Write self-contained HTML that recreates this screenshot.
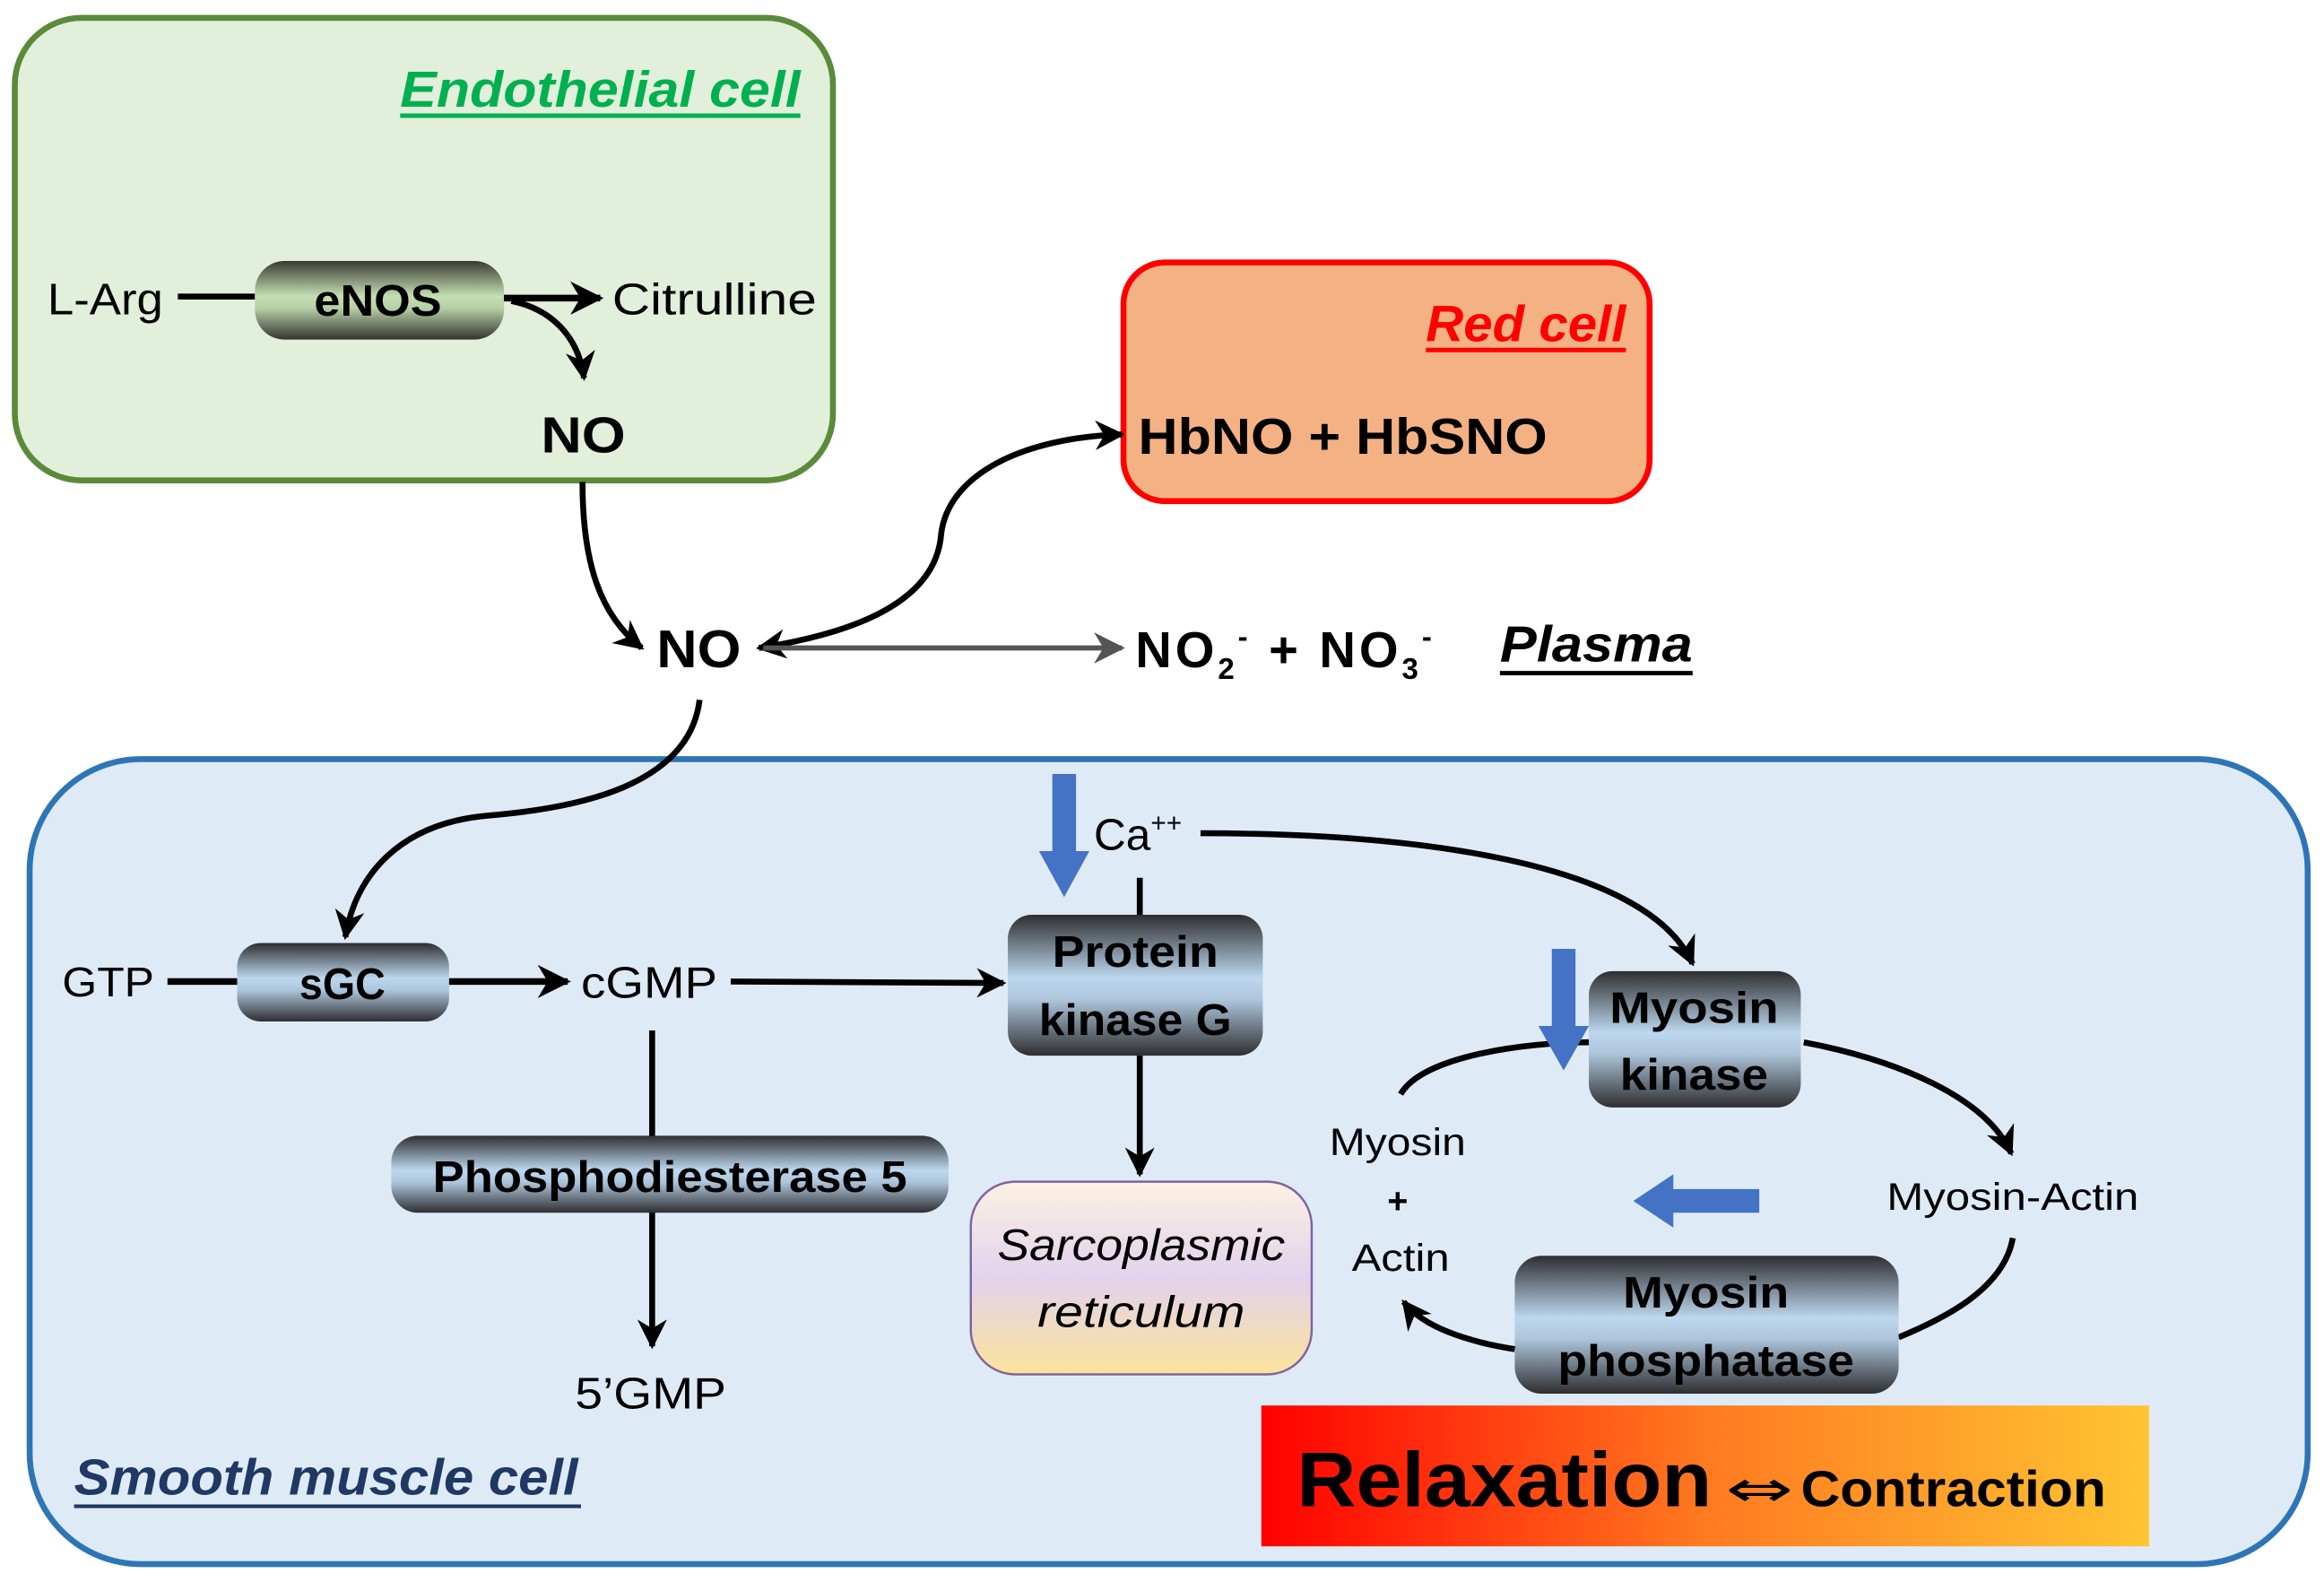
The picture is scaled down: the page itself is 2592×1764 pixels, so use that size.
<!DOCTYPE html>
<html><head><meta charset="utf-8"><style>
html,body{margin:0;padding:0;background:#fff;}
svg{display:block;}
text{font-family:"Liberation Sans",sans-serif;}
</style></head><body>
<svg width="2592" height="1764" viewBox="0 0 1568 1067" xmlns="http://www.w3.org/2000/svg">
<defs>
<linearGradient id="gG" x1="0" y1="0" x2="0" y2="1">
<stop offset="0" stop-color="#3a3a32"/><stop offset="0.45" stop-color="#c5dfb4"/><stop offset="0.6" stop-color="#b6cfa6"/><stop offset="1" stop-color="#333330"/></linearGradient>
<linearGradient id="gB" x1="0" y1="0" x2="0" y2="1">
<stop offset="0" stop-color="#2e2e30"/><stop offset="0.45" stop-color="#bdd7ee"/><stop offset="0.6" stop-color="#aec6dc"/><stop offset="1" stop-color="#2e2e30"/></linearGradient>
<linearGradient id="gS" x1="0" y1="0" x2="0" y2="1">
<stop offset="0" stop-color="#fcf1e2"/><stop offset="0.5" stop-color="#e2d2ee"/><stop offset="1" stop-color="#fbe39a"/></linearGradient>
<linearGradient id="gR" x1="0" y1="0" x2="1" y2="0">
<stop offset="0" stop-color="#ff0000"/><stop offset="0.5" stop-color="#ff7a20"/><stop offset="1" stop-color="#ffc433"/></linearGradient>
<marker id="ah" viewBox="0 0 10 10" refX="9" refY="5" markerWidth="5" markerHeight="5" orient="auto-start-reverse"><path d="M0,0 L10,5 L0,10 L3,5 z" fill="#000"/></marker>
<marker id="ahg" viewBox="0 0 10 10" refX="9" refY="5" markerWidth="6" markerHeight="6" orient="auto"><path d="M0,0 L10,5 L0,10 L3,5 z" fill="#555"/></marker>
</defs>

<rect x="10" y="12" width="552" height="312" rx="45" fill="#e2efda" stroke="#5a8a3a" stroke-width="4"/>
<text x="540" y="72" text-anchor="end" font-size="34" font-weight="bold" font-style="italic" fill="#00b050" textLength="270" lengthAdjust="spacingAndGlyphs">Endothelial cell</text>
<line x1="270" y1="78" x2="540" y2="78" stroke="#00b050" stroke-width="3"/>
<text x="32" y="212" font-size="30" textLength="78" lengthAdjust="spacingAndGlyphs">L-Arg</text>
<line x1="120" y1="200" x2="172" y2="200" stroke="#000" stroke-width="4"/>
<rect x="172" y="176" width="168" height="53" rx="20" fill="url(#gG)"/>
<text x="255" y="213" text-anchor="middle" font-size="30" font-weight="bold" textLength="86" lengthAdjust="spacingAndGlyphs">eNOS</text>
<line x1="340" y1="201" x2="405" y2="201" stroke="#000" stroke-width="4.5" marker-end="url(#ah)"/>
<text x="413" y="212" font-size="30" textLength="138" lengthAdjust="spacingAndGlyphs">Citrulline</text>
<path d="M345,203 C370,208 390,225 394,255" fill="none" stroke="#000" stroke-width="4" marker-end="url(#ah)"/>
<text x="365" y="305" font-size="34" font-weight="bold" textLength="57" lengthAdjust="spacingAndGlyphs">NO</text>

<path d="M393,325 C393,380 405,415 433,437" fill="none" stroke="#000" stroke-width="4" marker-end="url(#ah)"/>
<text x="443" y="450" font-size="36" font-weight="bold" textLength="57" lengthAdjust="spacingAndGlyphs">NO</text>

<rect x="758" y="177" width="355" height="161" rx="28" fill="#f4b183" stroke="#ff0000" stroke-width="4"/>
<text x="1097" y="230" text-anchor="end" font-size="34" font-weight="bold" font-style="italic" fill="#ff0000" textLength="135" lengthAdjust="spacingAndGlyphs">Red cell</text>
<line x1="962" y1="236" x2="1097" y2="236" stroke="#ff0000" stroke-width="3"/>
<text x="768" y="306" font-size="34" font-weight="bold" textLength="276" lengthAdjust="spacingAndGlyphs">HbNO + HbSNO</text>
<path d="M512,437 C590,425 632,400 635,360 C640,320 690,295 757,293" fill="none" stroke="#000" stroke-width="4" marker-start="url(#ah)" marker-end="url(#ah)"/>
<line x1="515" y1="437" x2="757" y2="437" stroke="#555" stroke-width="3.5" marker-end="url(#ahg)"/>
<text x="766" y="450" font-size="34" font-weight="bold" textLength="200" lengthAdjust="spacing">NO<tspan font-size="20" dy="8">2</tspan><tspan font-size="20" dy="-22">-</tspan><tspan dy="14"> + NO</tspan><tspan font-size="20" dy="8">3</tspan><tspan font-size="20" dy="-22">-</tspan></text>
<text x="1012" y="446" font-size="34" font-weight="bold" font-style="italic" textLength="130" lengthAdjust="spacingAndGlyphs">Plasma</text>
<line x1="1012" y1="454" x2="1142" y2="454" stroke="#000" stroke-width="3"/>

<rect x="20" y="512" width="1537" height="543" rx="75" fill="#deebf7" stroke="#2e75b6" stroke-width="4"/>
<path d="M472,472 C465,530 390,545 330,550 C270,555 240,590 233,632" fill="none" stroke="#000" stroke-width="4" marker-end="url(#ah)"/>
<text x="42" y="672" font-size="28" textLength="62" lengthAdjust="spacingAndGlyphs">GTP</text>
<line x1="113" y1="662" x2="160" y2="662" stroke="#000" stroke-width="4.5"/>
<rect x="160" y="636" width="143" height="53" rx="16" fill="url(#gB)"/>
<text x="231" y="674" text-anchor="middle" font-size="30" font-weight="bold" textLength="58" lengthAdjust="spacingAndGlyphs">sGC</text>
<line x1="303" y1="662" x2="383" y2="662" stroke="#000" stroke-width="4.5" marker-end="url(#ah)"/>
<text x="392" y="673" font-size="30" textLength="92" lengthAdjust="spacingAndGlyphs">cGMP</text>
<line x1="493" y1="662" x2="677" y2="663" stroke="#000" stroke-width="4" marker-end="url(#ah)"/>
<line x1="440" y1="695" x2="440" y2="908" stroke="#000" stroke-width="4" marker-end="url(#ah)"/>
<rect x="264" y="766" width="376" height="52" rx="18" fill="url(#gB)"/>
<text x="452" y="804" text-anchor="middle" font-size="30" font-weight="bold" textLength="320" lengthAdjust="spacingAndGlyphs">Phosphodiesterase 5</text>
<text x="388" y="950" font-size="30" textLength="102" lengthAdjust="spacingAndGlyphs">5’GMP</text>

<rect x="680" y="617" width="172" height="95" rx="16" fill="url(#gB)"/>
<text x="766" y="652" text-anchor="middle" font-size="30" font-weight="bold" textLength="112" lengthAdjust="spacingAndGlyphs">Protein</text>
<text x="766" y="698" text-anchor="middle" font-size="30" font-weight="bold" textLength="130" lengthAdjust="spacingAndGlyphs">kinase G</text>
<path d="M710,522 h16 v52 h9 l-17,31 l-17,-31 h9 z" fill="#4472c4"/>
<text x="738" y="573" font-size="30">Ca<tspan font-size="18" dy="-12">++</tspan></text>
<line x1="769" y1="592" x2="769" y2="617" stroke="#000" stroke-width="4"/>
<line x1="769" y1="712" x2="769" y2="792" stroke="#000" stroke-width="4" marker-end="url(#ah)"/>
<path d="M810,562 C950,562 1110,580 1142,650" fill="none" stroke="#000" stroke-width="4" marker-end="url(#ah)"/>

<rect x="655" y="797" width="230" height="130" rx="30" fill="url(#gS)" stroke="#8064a2" stroke-width="1.5"/>
<text x="770" y="850" text-anchor="middle" font-size="30" font-style="italic" textLength="194" lengthAdjust="spacingAndGlyphs">Sarcoplasmic</text>
<text x="770" y="895" text-anchor="middle" font-size="30" font-style="italic" textLength="140" lengthAdjust="spacingAndGlyphs">reticulum</text>

<path d="M945,738 C960,712 1030,703 1072,703" fill="none" stroke="#000" stroke-width="4"/>
<rect x="1072" y="655" width="143" height="92" rx="16" fill="url(#gB)"/>
<text x="1143" y="690" text-anchor="middle" font-size="30" font-weight="bold" textLength="114" lengthAdjust="spacingAndGlyphs">Myosin</text>
<text x="1143" y="735" text-anchor="middle" font-size="30" font-weight="bold" textLength="100" lengthAdjust="spacingAndGlyphs">kinase</text>
<path d="M1047,640 h16 v52 h9 l-17,30 l-17,-30 h9 z" fill="#4472c4"/>
<path d="M1217,703 C1280,715 1340,740 1357,778" fill="none" stroke="#000" stroke-width="4" marker-end="url(#ah)"/>
<text x="1358" y="816" text-anchor="middle" font-size="26" textLength="170" lengthAdjust="spacingAndGlyphs">Myosin-Actin</text>
<path d="M1358,835 C1352,870 1310,890 1281,902" fill="none" stroke="#000" stroke-width="4"/>
<path d="M1187,802 v16 h-58 v10 l-27,-18 l27,-18 v10 z" fill="#4472c4"/>
<rect x="1022" y="847" width="259" height="93" rx="18" fill="url(#gB)"/>
<text x="1151" y="882" text-anchor="middle" font-size="30" font-weight="bold" textLength="112" lengthAdjust="spacingAndGlyphs">Myosin</text>
<text x="1151" y="928" text-anchor="middle" font-size="30" font-weight="bold" textLength="200" lengthAdjust="spacingAndGlyphs">phosphatase</text>
<path d="M1022,910 C990,905 960,895 947,878" fill="none" stroke="#000" stroke-width="4" marker-end="url(#ah)"/>
<text x="943" y="779" text-anchor="middle" font-size="26" textLength="92" lengthAdjust="spacingAndGlyphs">Myosin</text>
<text x="943" y="818" text-anchor="middle" font-size="24" font-weight="bold">+</text>
<text x="945" y="857" text-anchor="middle" font-size="26" textLength="66" lengthAdjust="spacingAndGlyphs">Actin</text>

<rect x="851" y="948" width="599" height="95" fill="url(#gR)"/>
<text x="875" y="1016" font-size="52" font-weight="bold" textLength="280" lengthAdjust="spacingAndGlyphs">Relaxation</text>
<text x="1164" y="1016" font-size="34" style="font-family:'DejaVu Sans',sans-serif" textLength="46" lengthAdjust="spacingAndGlyphs">⇔</text>
<text x="1215" y="1016" font-size="34" font-weight="bold" textLength="206" lengthAdjust="spacingAndGlyphs">Contraction</text>

<text x="50" y="1008" font-size="34" font-weight="bold" font-style="italic" fill="#1f3864" textLength="340" lengthAdjust="spacingAndGlyphs">Smooth muscle cell</text>
<line x1="50" y1="1016" x2="392" y2="1016" stroke="#1f3864" stroke-width="2.5"/>
</svg>
</body></html>
